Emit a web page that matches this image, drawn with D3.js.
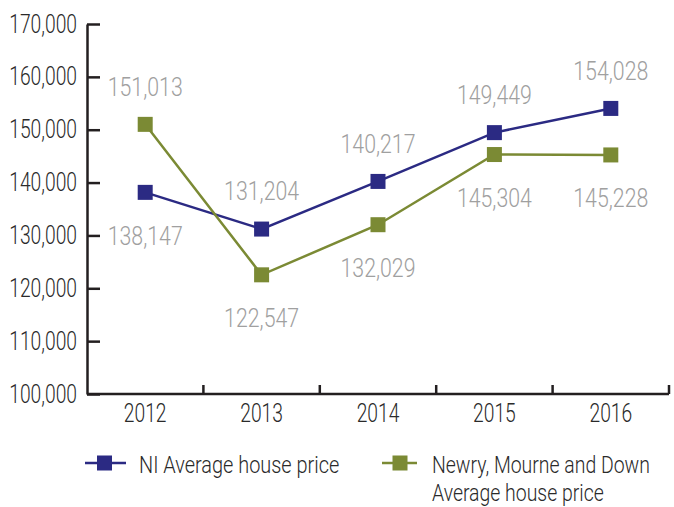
<!DOCTYPE html>
<html>
<head>
<meta charset="utf-8">
<script src="https://cdn.jsdelivr.net/npm/d3@7"></script>
<style>
  html, body { margin: 0; padding: 0; background: #ffffff; }
  svg text { font-family: "Roboto", "Liberation Sans", Arial, sans-serif; font-weight: 300; }
</style>
</head>
<body>
<svg id="chart" width="674" height="507"></svg>
<script>
const years = ["2012", "2013", "2014", "2015", "2016"];
const niPrices = [138147, 131204, 140217, 149449, 154028];
const nmdPrices = [151013, 122547, 132029, 145304, 145228];
const niLabelPos = ["below", "above", "above", "above", "above"];
const nmdLabelPos = ["above", "below", "below", "below", "below"];
const yTicks = [100000, 110000, 120000, 130000, 140000, 150000, 160000, 170000];
const seriesNames = ["NI Average house price", ["Newry, Mourne and Down", "Average house price"]];

const colors = { ni: "#2b2a83", nmd: "#7b8a34", label: "#a0a0a0", axis: "#231f20", text: "#2a2a2a" };
const NARROW = 0.77;

const svg = d3.select("#chart");
const x = d3.scaleBand().domain(years).range([87, 669]).padding(0);
const y = d3.scaleLinear().domain([100000, 170000]).range([394, 24]);
const fmt = d3.format(",");

function narrowText(sel, px, py, sx) {
  sel.attr("x", 0).attr("y", 0)
     .attr("transform", (d, i) => `translate(${px(d, i)},${py(d, i)}) scale(${sx},1)`);
  return sel;
}

// Y axis
const yAxis = svg.append("g").attr("transform", "translate(87,0)")
  .call(d3.axisLeft(y).tickValues(yTicks).tickFormat(fmt).tickSize(-13).tickSizeOuter(0).tickPadding(10));
yAxis.select(".domain").attr("stroke", colors.axis).attr("stroke-width", 2.5);
yAxis.selectAll(".tick line").attr("stroke", colors.axis).attr("stroke-width", 2.5);
yAxis.selectAll(".tick text").attr("fill", colors.text).attr("font-size", 25)
  .attr("font-family", "Roboto, Liberation Sans, Arial, sans-serif").attr("font-weight", 300)
  .attr("x", -10 / NARROW).attr("transform", `scale(${NARROW},1)`);

// X axis with ticks at category boundaries, pointing up
const xAxisG = svg.append("g").attr("transform", "translate(0,394)");
xAxisG.append("line").attr("x1", 87).attr("x2", 669).attr("y1", 0).attr("y2", 0)
  .attr("stroke", colors.axis).attr("stroke-width", 2.5);
const boundaries = years.map(d => x(d)).concat([x(years[years.length - 1]) + x.bandwidth()]).slice(1);
xAxisG.selectAll("line.tk").data(boundaries).join("line").attr("class", "tk")
  .attr("x1", d => d).attr("x2", d => d).attr("y1", 0).attr("y2", -9)
  .attr("stroke", colors.axis).attr("stroke-width", 2.5);
narrowText(xAxisG.selectAll("text").data(years).join("text"),
  d => x(d) + x.bandwidth() / 2, () => 27.5, NARROW)
  .attr("text-anchor", "middle").attr("font-size", 25).attr("fill", colors.text).text(d => d);

const cx = d => x(d) + x.bandwidth() / 2;

function drawSeries(values, color, pos) {
  const data = years.map((yr, i) => ({ yr, v: values[i], pos: pos[i] }));
  svg.append("path").datum(data)
    .attr("fill", "none").attr("stroke", color).attr("stroke-width", 2.5)
    .attr("d", d3.line().x(d => cx(d.yr)).y(d => y(d.v)));
  svg.selectAll(null).data(data).join("rect")
    .attr("x", d => cx(d.yr) - 7.5).attr("y", d => y(d.v) - 7.5)
    .attr("width", 15).attr("height", 15).attr("fill", color);
  narrowText(svg.selectAll(null).data(data).join("text"),
    d => cx(d.yr), d => y(d.v) + (d.pos === "above" ? -38 : 43) + 9.2, 0.82)
    .attr("text-anchor", "middle").attr("font-size", 26).attr("fill", colors.label)
    .text(d => fmt(d.v));
}
drawSeries(niPrices, colors.ni, niLabelPos);
drawSeries(nmdPrices, colors.nmd, nmdLabelPos);

// Legend
const leg1 = svg.append("g").attr("transform", "translate(0,463)");
leg1.append("line").attr("x1", 85).attr("x2", 126).attr("stroke", colors.ni).attr("stroke-width", 2.5);
leg1.append("rect").attr("x", 97).attr("y", -7.5).attr("width", 15).attr("height", 15).attr("fill", colors.ni);
narrowText(leg1.append("text").datum(seriesNames[0]), () => 139, () => 10, 0.83)
  .attr("font-size", 24).attr("fill", colors.text).text(d => d);

const leg2 = svg.append("g").attr("transform", "translate(0,463)");
leg2.append("line").attr("x1", 382).attr("x2", 417).attr("stroke", colors.nmd).attr("stroke-width", 2.5);
leg2.append("rect").attr("x", 392.5).attr("y", -7.5).attr("width", 15).attr("height", 15).attr("fill", colors.nmd);
narrowText(leg2.selectAll("text").data(seriesNames[1]).join("text"),
  () => 432, (d, i) => 10 + i * 28, 0.81)
  .attr("font-size", 24).attr("fill", colors.text).text(d => d);
</script>
</body>
</html>
